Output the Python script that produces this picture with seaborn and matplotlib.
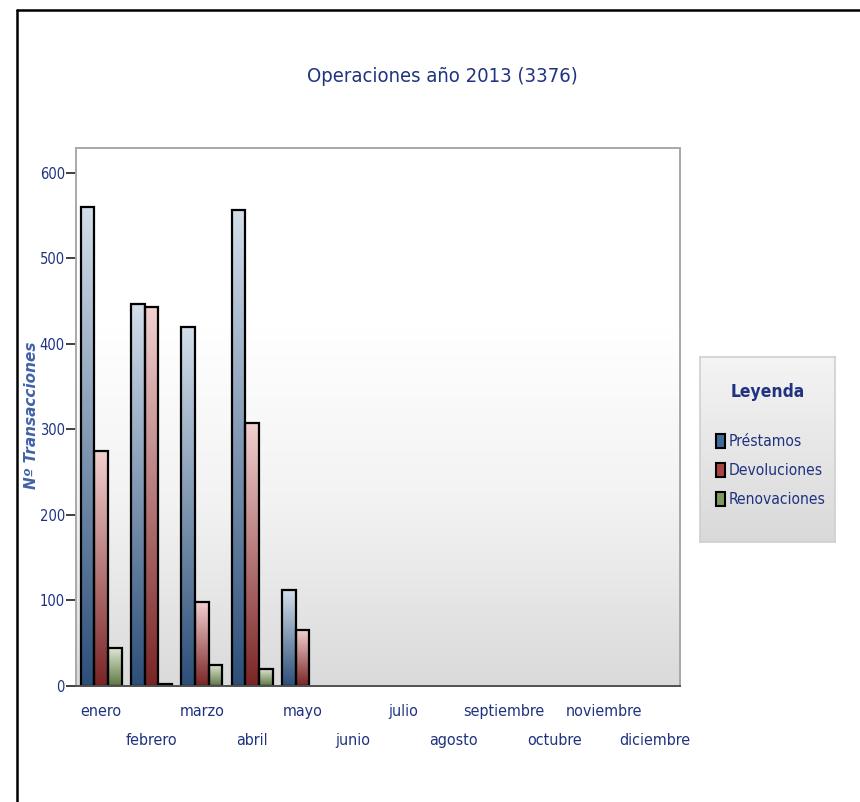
import numpy as np
import pandas as pd
import matplotlib
matplotlib.use("Agg")
import matplotlib.pyplot as plt
import seaborn as sns
from matplotlib.patches import Patch
from matplotlib.colors import LinearSegmentedColormap
from matplotlib import font_manager

# ---- data ----
months = ["enero", "febrero", "marzo", "abril", "mayo", "junio", "julio",
          "agosto", "septiembre", "octubre", "noviembre", "diciembre"]
series = ["Préstamos", "Devoluciones", "Renovaciones"]
prestamos = [560, 447, 420, 557, 112, 0, 0, 0, 0, 0, 0, 0]
devoluciones = [275, 443, 98, 308, 65, 0, 0, 0, 0, 0, 0, 0]
renovaciones = [45, 2, 25, 20, 0, 0, 0, 0, 0, 0, 0, 0]
yticks = [0, 100, 200, 300, 400, 500, 600]
title = "Operaciones año 2013 (3376)"
ylabel = "Nº Transacciones"
legend_title = "Leyenda"

df = pd.DataFrame({
    "mes": months * 3,
    "serie": [series[0]] * 12 + [series[1]] * 12 + [series[2]] * 12,
    "valor": prestamos + devoluciones + renovaciones,
})

# pick a condensed font if available
cond = [f for f in font_manager.fontManager.ttflist
        if ("Condensed" in f.fname or "Narrow" in f.fname or "Condensed" in f.name or "Narrow" in f.name)]
NARROW_FILE = None
NARROW_BOLD_FILE = None
for f in cond:
    low = f.fname.lower()
    if "oblique" in low or "italic" in low:
        continue
    if "bold" in low:
        if NARROW_BOLD_FILE is None:
            NARROW_BOLD_FILE = f.fname
    elif NARROW_FILE is None:
        NARROW_FILE = f.fname
if NARROW_FILE:
    NARROW = font_manager.FontProperties(fname=NARROW_FILE)
else:
    NARROW = font_manager.FontProperties(family="DejaVu Sans", stretch="condensed")
if NARROW_BOLD_FILE:
    NARROW_BOLD = font_manager.FontProperties(fname=NARROW_BOLD_FILE)
else:
    NARROW_BOLD = NARROW.copy()
    NARROW_BOLD.set_weight("bold")

NAVY = "#1f3380"
grad_colors = {
    "Préstamos": ("#2c4f79", "#d3deea"),
    "Devoluciones": ("#7a2424", "#f2d0d0"),
    "Renovaciones": ("#5d7843", "#e2e9d6"),
}
mid_colors = {"Préstamos": "#3f6b9a", "Devoluciones": "#a84444", "Renovaciones": "#7f9960"}

sns.set_style("white")
plt.rcParams["font.family"] = ["DejaVu Sans"]

fig = plt.figure(figsize=(8.6, 8.02), dpi=100)
ax = fig.add_axes([76 / 860, 1 - 686 / 802, 604 / 860, 538 / 802])

sns.barplot(data=df, x="mes", y="valor", hue="serie", order=months,
            hue_order=series, palette=mid_colors, width=0.82,
            edgecolor="black", linewidth=1.6, legend=False, ax=ax, zorder=2)

YMAX = 629
bg = np.linspace(0, 1, 256).reshape(-1, 1)
bg_cmap = LinearSegmentedColormap.from_list("bg", ["#dadada", "#f2f2f2", "#ffffff", "#ffffff"])
ax.imshow(bg, cmap=bg_cmap, extent=[0, 1, 0, 1], transform=ax.transAxes,
          origin="lower", aspect="auto", zorder=0)

for cont, name in zip(ax.containers, series):
    dark, light = grad_colors[name]
    cmap = LinearSegmentedColormap.from_list(name, [dark, light])
    for bar in cont:
        x0, y0 = bar.get_x(), bar.get_y()
        w, h = bar.get_width(), bar.get_height()
        if h <= 0:
            bar.set_visible(False)
            continue
        ax.imshow(bg, cmap=cmap, extent=[x0, x0 + w, y0, y0 + h], origin="lower",
                  aspect="auto", zorder=1.5)
        bar.set_facecolor("none")
        bar.set_zorder(2)

ax.set_xlim(-0.5, 11.5)
ax.set_ylim(0, YMAX)
ax.set_aspect("auto")

ax.set_xlabel("")
ax.set_ylabel("")
ax.set_yticks(yticks)
ax.set_yticklabels([str(v) for v in yticks])
ax.set_xticks(np.arange(-0.5, 12, 1))
ax.set_xticklabels([""] * 13)
ax.set_xticks(np.arange(12), minor=True)
ax.set_xticklabels(months, minor=True)
ax.tick_params(axis="x", which="major", length=8, width=1.3, color="#303030", direction="out")
ax.tick_params(axis="x", which="minor", length=0, pad=13, labelcolor=NAVY)
ax.tick_params(axis="y", which="major", length=7, width=1.3, color="#303030",
               direction="out", pad=1, labelcolor=NAVY, left=True)
for lab in ax.get_xticklabels(minor=True):
    lab.set_fontproperties(NARROW)
    lab.set_fontsize(11.5)
for lab in ax.get_yticklabels():
    lab.set_fontproperties(NARROW)
    lab.set_fontsize(10.5)
# stagger month labels on two rows
for i, t in enumerate(ax.xaxis.get_minor_ticks()):
    if i % 2 == 1:
        t.set_pad(34)

for s in ["left", "top", "right"]:
    ax.spines[s].set_color("#a8a8a8")
    ax.spines[s].set_linewidth(1.4)
ax.spines["bottom"].set_color("#505050")
ax.spines["bottom"].set_linewidth(1.4)

fig.text(442 / 860, 1 - 76 / 802, title, ha="center", va="center",
         fontproperties=NARROW, fontsize=14.5, color=NAVY)
fig.text(32 / 860, 1 - 415 / 802, ylabel, ha="center", va="center", rotation=90,
         fontsize=11, color="#4262a8", style="italic", weight="bold",
         family=["DejaVu Sans"])

# legend panel
lax = fig.add_axes([700 / 860, 1 - 542 / 802, 135 / 860, 185 / 802])
lbg_cmap = LinearSegmentedColormap.from_list("lbg", ["#d9d9d9", "#f4f4f4"])
lax.imshow(bg, cmap=lbg_cmap, extent=[0, 1, 0, 1], origin="lower", aspect="auto")
lax.set_xlim(0, 1)
lax.set_ylim(0, 1)
lax.set_xticks([])
lax.set_yticks([])
for s in lax.spines.values():
    s.set_color("#cfcfcf")
    s.set_linewidth(1.2)
lax.text(0.5, (542 - 392) / 185, legend_title, ha="center", va="center",
         fontproperties=NARROW_BOLD, fontsize=12.5, color=NAVY, transform=lax.transAxes)
handles = [Patch(facecolor=mid_colors[n], edgecolor="black", linewidth=1.5, label=n)
           for n in series]
leg_prop = NARROW.copy()
leg_prop.set_size(11.2)
leg = lax.legend(handles=handles, loc="center left",
                 bbox_to_anchor=(0.115, (542 - 470.5) / 185), frameon=False, prop=leg_prop,
                 handlelength=0.6, handleheight=1.05,
                 handletextpad=0.25, labelspacing=0.88, borderpad=0.0, borderaxespad=0.0)
for t in leg.get_texts():
    t.set_color(NAVY)

fig.add_artist(plt.Line2D([17 / 860, 17 / 860], [0, 1 - 10 / 802], color="black", lw=1.8))
fig.add_artist(plt.Line2D([17 / 860, 1], [1 - 10 / 802, 1 - 10 / 802], color="black", lw=1.8))

fig.savefig("out.png", dpi=100, facecolor="white")
